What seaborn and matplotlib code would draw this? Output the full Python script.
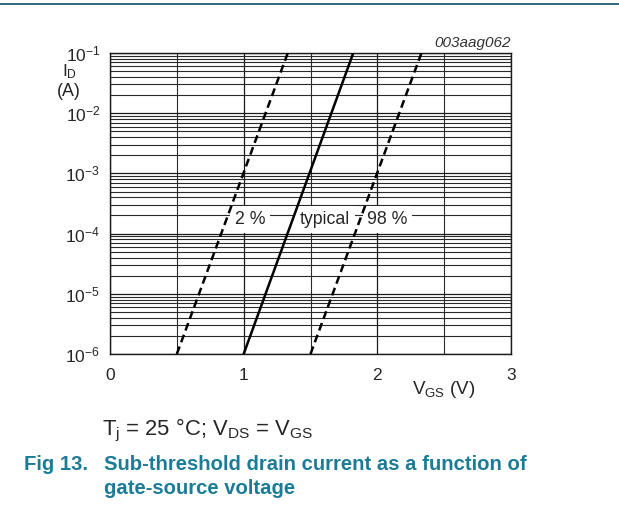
import matplotlib
matplotlib.use("Agg")
import matplotlib.pyplot as plt
import matplotlib.ticker as mticker
import seaborn as sns
import pandas as pd
import numpy as np

# ---- data ----
curve_names = ["2 %", "typical", "98 %"]
vgs_2pct = [0.50, 1.33]
vgs_typical = [1.00, 1.82]
vgs_98pct = [1.50, 2.33]
id_values = [1e-6, 1e-1]
y_ticks = [1e-6, 1e-5, 1e-4, 1e-3, 1e-2, 1e-1]
y_tick_labels = ["10$^{-6}$", "10$^{-5}$", "10$^{-4}$", "10$^{-3}$", "10$^{-2}$", "10$^{-1}$"]
x_ticks = [0, 1, 2, 3]
x_tick_labels = ["0", "1", "2", "3"]
label_x = [1.047, 1.61, 2.076]
label_y = 1.7e-4

rows = []
for name, xs in zip(curve_names, [vgs_2pct, vgs_typical, vgs_98pct]):
    for x, y in zip(xs, id_values):
        rows.append({"curve": name, "VGS": x, "ID": y})
df = pd.DataFrame(rows)

sns.set_style("white")
plt.rcParams["font.family"] = ["Liberation Sans", "DejaVu Sans"]
plt.rcParams["mathtext.default"] = "regular"

W, H = 619, 519
fig = plt.figure(figsize=(W / 100, H / 100), dpi=100)
L, R, T, B = 110, 511, 53, 354
ax = fig.add_axes([L / W, (H - B) / H, (R - L) / W, (B - T) / H])

sns.lineplot(data=df, x="VGS", y="ID", hue="curve", style="curve",
             palette={n: "black" for n in curve_names},
             dashes={"2 %": (3.2, 1.8), "typical": "", "98 %": (3.2, 1.8)},
             linewidth=1.8, legend=False, ax=ax, zorder=5)

ax.set_yscale("log")
ax.set_xlim(0, 3)
ax.set_ylim(1e-6, 1e-1)
ax.set_yticks(y_ticks)
ax.set_yticklabels(y_tick_labels)
ax.set_xticks(x_ticks)
ax.set_xticklabels(x_tick_labels)
ax.xaxis.set_minor_locator(mticker.MultipleLocator(0.5))
ax.yaxis.set_minor_locator(mticker.LogLocator(base=10, subs=np.arange(2, 10), numticks=20))
ax.yaxis.set_minor_formatter(mticker.NullFormatter())
ax.tick_params(which="both", length=0)
ax.tick_params(axis="y", pad=7, labelsize=12.5)
ax.tick_params(axis="x", pad=10, labelsize=12.5)
ax.grid(True, which="major", color="#1a1a1a", linewidth=0.9)
ax.grid(True, which="minor", color="#2a2a2a", linewidth=0.8)
ax.set_axisbelow(True)
ax.set_xlabel("")
ax.set_ylabel("")
for s in ax.spines.values():
    s.set_color("#1a1a1a")
    s.set_linewidth(1.0)

for name, lx in zip(curve_names, label_x):
    ax.text(lx, label_y, name, ha="center", va="center", fontsize=12.8, zorder=3,
            bbox=dict(facecolor="white", edgecolor="none", pad=3.5))

def fx(px):
    return px / W

def fy(py):
    return 1 - py / H

fig.text(fx(62), fy(76.5), "I$_D$", ha="left", va="baseline", fontsize=12.5)
fig.text(fx(69), fy(96), "(A)", ha="center", va="baseline", fontsize=12.8)
fig.text(fx(444), fy(390), "V$_{GS}$ (V)", ha="center", va="center", fontsize=13.5)
fig.text(fx(511), fy(43), "003aag062", ha="right", va="center", fontsize=11,
         style="italic", color="#333333")

fig.text(fx(102), fy(430), "T$_j$ = 25 °C; V$_{DS}$ = V$_{GS}$", ha="left", va="center", fontsize=15.8)
teal = "#1b7c97"
fig.text(fx(88), fy(465), "Fig 13.", ha="right", va="center", fontsize=14.6, weight="bold", color=teal)
fig.text(fx(104), fy(465), "Sub-threshold drain current as a function of", ha="left", va="center",
         fontsize=14.6, weight="bold", color=teal)
fig.text(fx(104), fy(489), "gate-source voltage", ha="left", va="center",
         fontsize=14.6, weight="bold", color=teal)

fig.add_artist(plt.Line2D([0, 1], [fy(4), fy(4)], color="#1f5d7a", linewidth=1.3))

fig.savefig("out.png", dpi=100)
